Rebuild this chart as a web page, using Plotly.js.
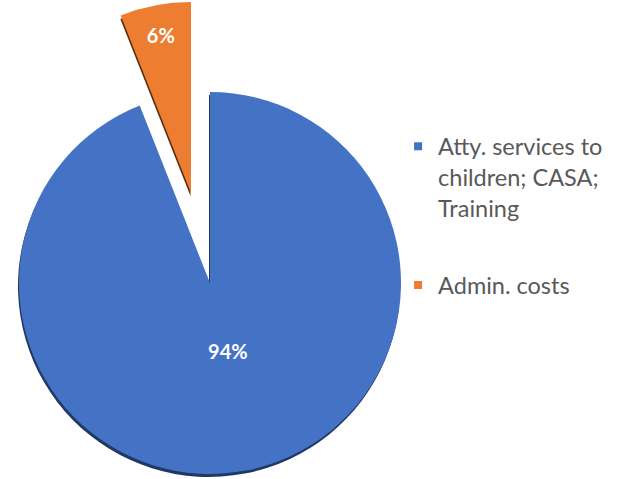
<!DOCTYPE html>
<html><head><meta charset="utf-8">
<script src="https://cdn.plot.ly/plotly-3.0.1.min.js"></script>
<style>html,body{margin:0;padding:0;background:#fff;overflow:hidden;} #chart{width:622px;height:479px;}</style>
</head><body><div id="chart"></div>
<script>
// ---- data ----
const labels = ["Atty. services to children; CASA; Training", "Admin. costs"];
const legendNames = ["Atty. services to<br>children; CASA;<br>Training", "Admin. costs"];
const values = [94, 6];
const sliceColors = ["#4472C4", "#ED7D31"];
const shadowColors = ["#1F3864", "#5A2C0C"];

// ---- geometry helpers (pixel -> paper) ----
const W = 622, H = 479;
function dom(cx, cy, r) {
  return { x: [(cx - r) / W, (cx + r) / W], y: [(H - (cy + r)) / H, (H - (cy - r)) / H] };
}
const R = 191;
const mainC = [210, 283];
const pulledC = [191, 193];
const sh = [-1, 3];
const clear = 'rgba(0,0,0,0)';

function pieTrace(c, colorArr, textArr) {
  return {
    type: 'pie', labels: labels, values: values, sort: false,
    direction: 'clockwise', rotation: 0,
    domain: dom(c[0], c[1], R),
    marker: { colors: colorArr, line: { width: 0 } },
    texttemplate: textArr, textposition: 'inside', insidetextorientation: 'horizontal',
    textfont: { family: 'Lato, "Open Sans", sans-serif', size: 20, weight: 'bold', color: '#FFFFFF' },
    hoverinfo: 'skip', showlegend: false
  };
}

const data = [
  pieTrace([mainC[0] + sh[0], mainC[1] + sh[1]], [shadowColors[0], clear], ["", ""]),
  pieTrace([pulledC[0] + sh[0], pulledC[1] + sh[1]], [clear, shadowColors[1]], ["", ""]),
  pieTrace(mainC, [sliceColors[0], clear], ["%{percent}<br>&nbsp;<br>&nbsp;", ""]),
  pieTrace(pulledC, [clear, sliceColors[1]], ["", "%{percent}"]),
];
// legend entries
legendNames.forEach((n, i) => {
  data.push({
    type: 'scatter', mode: 'markers', x: [null], y: [null], name: n,
    legendgroup: 'g' + i,
    marker: { symbol: 'square', size: 8, color: sliceColors[i] },
    hoverinfo: 'skip'
  });
});

const layout = {
  width: W, height: H,
  margin: { l: 0, r: 0, t: 0, b: 0 },
  paper_bgcolor: '#FFFFFF', plot_bgcolor: '#FFFFFF',
  xaxis: { visible: false }, yaxis: { visible: false },
  showlegend: true,
  legend: {
    x: 0.64, y: 0.74, xanchor: 'left', yanchor: 'top', valign: 'top',
    bgcolor: 'rgba(0,0,0,0)', tracegroupgap: 44,
    font: { family: 'Lato, "Open Sans", sans-serif', size: 23.5, color: '#595959' }
  }
};
Plotly.newPlot('chart', data, layout, { displayModeBar: false, staticPlot: true });
</script>
</body></html>
